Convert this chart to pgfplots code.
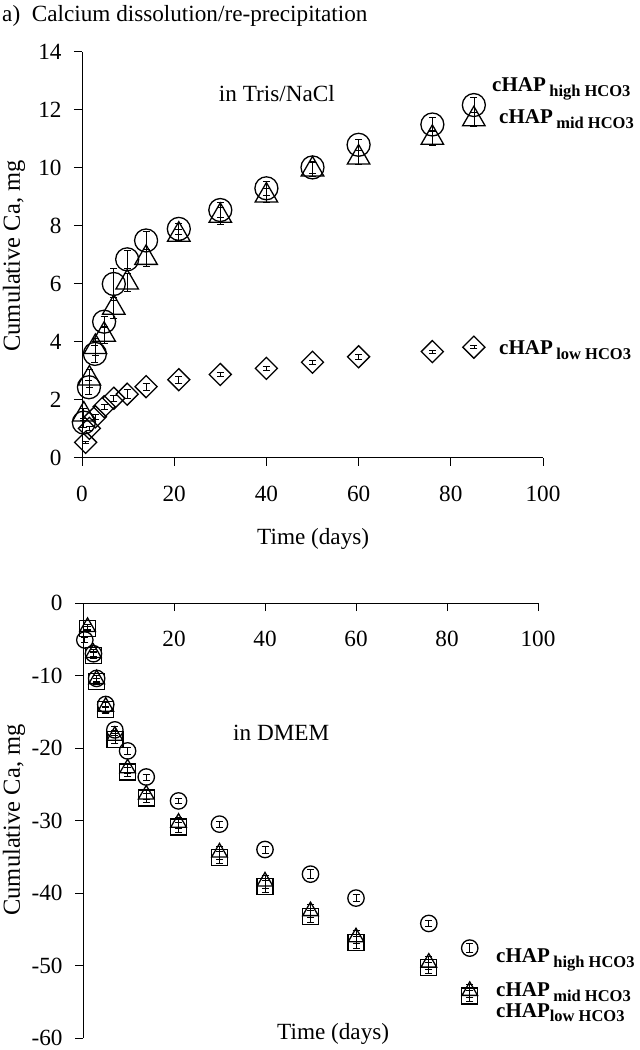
\documentclass[border=0pt]{standalone}
\usepackage{fontspec}
\setmainfont{Liberation Serif}
\usepackage{pgfplots}
\pgfplotsset{compat=1.18}
\usepackage{pgfplotstable}

\pgfplotstableread{
x y e
0.4 1.22 0.15
1.5 2.44 0.25
2.8 3.59 0.30
4.8 4.70 0.20
6.9 6.00 0.55
9.8 6.85 0.30
13.9 7.50 0.30
21 7.90 0.20
30 8.55 0.25
40 9.30 0.25
50 10.02 0.20
60 10.80 0.20
76 11.50 0.25
85 12.17 0.25
}\tophigh
\pgfplotstableread{
x y e
0.4 1.50 0.20
1.6 2.74 0.30
2.9 3.83 0.30
4.8 4.25 0.30
6.9 5.18 0.35
9.8 6.05 0.30
13.9 6.90 0.30
21 7.70 0.20
30 8.35 0.30
40 9.05 0.25
50 9.95 0.25
60 10.36 0.25
76 11.04 0.25
85 11.68 0.25
}\topmid
\pgfplotstableread{
x y e
0.8 0.54 0.05
1.6 1.02 0.08
2.9 1.42 0.08
4.8 1.77 0.08
6.9 2.06 0.10
9.8 2.20 0.15
13.9 2.46 0.12
21 2.70 0.12
30 2.88 0.08
40 3.09 0.08
50 3.30 0.08
60 3.49 0.08
76 3.67 0.05
85 3.82 0.05
}\toplow
\pgfplotstableread{
x y e
0.4 -5.1 0.3
2.3 -7.0 0.4
3.0 -10.4 0.4
5.0 -14.0 0.4
7.0 -17.5 0.5
9.8 -20.4 0.5
13.9 -24.0 0.4
21 -27.3 0.4
30 -30.5 0.4
40 -34.0 0.5
50 -37.4 0.6
60 -40.7 0.5
76 -44.2 0.4
85 -47.6 0.6
}\bothigh
\pgfplotstableread{
x y e
1.0 -3.3 0.4
2.3 -6.9 0.5
3.0 -10.5 0.5
5.0 -14.3 0.6
7.0 -18.3 0.7
9.8 -22.8 0.7
13.9 -26.4 0.7
21 -30.3 0.8
30 -34.4 0.9
40 -38.4 0.9
50 -42.5 0.9
60 -46.1 0.9
76 -49.6 0.9
85 -53.5 0.9
}\botmid
\pgfplotstableread{
x y e
1.0 -3.5 0.3
2.3 -7.2 0.4
3.0 -10.8 0.4
5.0 -14.7 0.5
7.0 -18.8 0.6
9.8 -23.3 0.6
13.9 -26.9 0.6
21 -30.9 0.7
30 -35.1 0.8
40 -39.1 0.8
50 -43.2 0.8
60 -46.8 0.8
76 -50.3 0.8
85 -54.2 0.8
}\botlow

\newcommand{\bigfont}{\fontsize{23.2}{27}\selectfont}
\newcommand{\labfont}{\fontsize{21}{25}\selectfont}
\newcommand{\lab}[1]{\textbf{cHAP}\,\raisebox{-4.5pt}{\fontsize{16.5}{17}\selectfont\textbf{#1}}}
\newcommand{\labn}[1]{\textbf{cHAP}\raisebox{-4pt}{\fontsize{16.5}{17}\selectfont\textbf{#1}}}

\pgfplotsset{
  refstyle/.style={
    scale only axis,
    clip=false,
    /pgf/number format/assume math mode=true,
    ticklabel style={font=\bigfont},
    axis line style={line width=1pt, black},
    tick style={line width=1pt, black},
    major tick length=8pt,
  },
  pts/.style={only marks, black, line width=1.3pt,
      error bars/.cd, y dir=both, y explicit,
      error bar style={line width=0.7pt, black},
      error mark options={rotate=90, mark size=3.5pt, line width=0.7pt, black}},
}

\begin{document}
\begin{tikzpicture}[x=1pt,y=1pt]
\path[use as bounding box] (0,0) rectangle (640,1050);

% ---------- top panel ----------
\begin{axis}[refstyle,
  at={(82pt,592pt)}, anchor=south west,
  width=461pt, height=406pt,
  xmin=0, xmax=100, ymin=0, ymax=14,
  axis lines*=left,
  tick align=outside,
  xtick={0,20,...,100}, ytick={0,2,...,14},
  xticklabel style={yshift=-17pt},
  yticklabel style={xshift=-9pt},
]
\addplot[mark=o, mark size=11.5pt, pts] table[x=x, y=y, y error=e]{\tophigh};
\addplot[mark=triangle, mark size=13pt, pts] table[x=x, y=y, y error=e]{\topmid};
\addplot[mark=square, mark size=7.8pt, mark options={rotate=45}, pts] table[x=x, y=y, y error=e]{\toplow};
\end{axis}

% ---------- bottom panel ----------
\begin{axis}[refstyle,
  at={(83pt,12pt)}, anchor=south west,
  width=455pt, height=435pt,
  xmin=0, xmax=100, ymin=-60, ymax=0,
  axis x line*=middle, axis y line*=left,
  tick align=outside,
  xtick={20,40,...,100}, ytick={-60,-50,...,0},
  xticklabel style={yshift=-17pt},
  yticklabel style={xshift=-9pt},
]
\addplot[mark=o, mark size=8.2pt, pts] table[x=x, y=y, y error=e]{\bothigh};
\addplot[mark=triangle, mark size=9pt, pts] table[x=x, y=y, y error=e]{\botmid};
\addplot[mark=square, mark size=8pt, pts] table[x=x, y=y, y error=e]{\botlow};
\end{axis}

% ---------- texts ----------
\node[anchor=base west, font=\bigfont, inner sep=0] at (2,1028) {a)\ \ Calcium dissolution/re-precipitation};
\node[anchor=base east, font=\bigfont, inner sep=0] at (335,948) {in Tris/NaCl};
\node[anchor=base west, font=\bigfont, inner sep=0] at (257,505) {Time (days)};
\node[rotate=90, font=\fontsize{24.5}{28}\selectfont, inner sep=0] at (14,794) {Cumulative Ca, mg};

\node[anchor=base west, font=\labfont, inner sep=0] at (492,958) {\lab{high HCO3}};
\node[anchor=base west, font=\labfont, inner sep=0] at (499,926) {\lab{mid HCO3}};
\node[anchor=base west, font=\labfont, inner sep=0] at (499,695) {\lab{low HCO3}};

\node[anchor=base west, font=\bigfont, inner sep=0] at (233,309) {in DMEM};
\node[anchor=base west, font=\bigfont, inner sep=0] at (277,10) {Time (days)};
\node[rotate=90, font=\fontsize{24.5}{28}\selectfont, inner sep=0] at (14,230) {Cumulative Ca, mg};

\node[anchor=base west, font=\labfont, inner sep=0] at (496,87) {\lab{high HCO3}};
\node[anchor=base west, font=\labfont, inner sep=0] at (496,53) {\lab{mid HCO3}};
\node[anchor=base west, font=\labfont, inner sep=0] at (496,32) {\labn{low HCO3}};
\end{tikzpicture}
\end{document}
